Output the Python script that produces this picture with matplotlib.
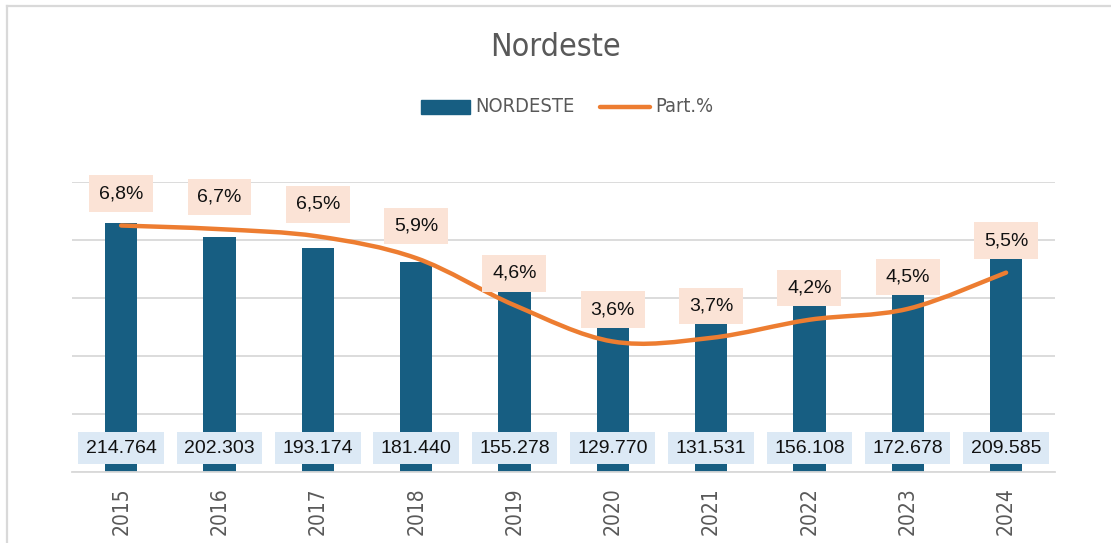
import matplotlib.pyplot as plt
from matplotlib.path import Path
from matplotlib.patches import PathPatch, Rectangle
from matplotlib.lines import Line2D
from matplotlib import font_manager

years = ["2015", "2016", "2017", "2018", "2019", "2020", "2021", "2022", "2023", "2024"]
nordeste = [214764, 202303, 193174, 181440, 155278, 129770, 131531, 156108, 172678, 209585]
part = [6.8, 6.7, 6.5, 5.9, 4.6, 3.6, 3.7, 4.2, 4.5, 5.5]

BAR = "#175e82"
LINE = "#ed7d31"
GRAY = "#595959"

names = {f.name for f in font_manager.fontManager.ttflist}
narrow = "Liberation Sans Narrow" if "Liberation Sans Narrow" in names else "DejaVu Sans"
narrow_kw = {"family": narrow}
if narrow == "DejaVu Sans":
    narrow_kw["stretch"] = "condensed"

plt.rcParams["font.family"] = ["Liberation Sans", "DejaVu Sans"]


def fmt_int(v):
    return f"{v:,}".replace(",", ".")


def smooth_path(xs, ys):
    # excel-style smoothed line as cubic bezier segments
    pts = list(zip(xs, ys))
    n = len(pts)
    verts = [pts[0]]
    codes = [Path.MOVETO]
    for i in range(n - 1):
        p0 = pts[i - 1] if i > 0 else pts[i]
        p1 = pts[i]
        p2 = pts[i + 1]
        p3 = pts[i + 2] if i + 2 < n else pts[i + 1]
        c1 = (p1[0] + (p2[0] - p0[0]) / 6, p1[1] + (p2[1] - p0[1]) / 6)
        c2 = (p2[0] - (p3[0] - p1[0]) / 6, p2[1] - (p3[1] - p1[1]) / 6)
        verts += [c1, c2, p2]
        codes += [Path.CURVE4] * 3
    return Path(verts, codes)


fig = plt.figure(figsize=(11.11, 5.43), dpi=100)
ax = fig.add_axes([0.0648, 0.1308, 0.885, 0.534])
ax2 = ax.twinx()

x = list(range(len(years)))
ax.bar(x, nordeste, width=0.33, color=BAR, zorder=2)
ax.set_ylim(0, 250000)
ax.set_yticks(range(0, 250001, 50000))
ax.set_xlim(-0.5, len(years) - 0.5)
ax.grid(axis="y", color="#d9d9d9", linewidth=1.3, zorder=0)
ax.set_axisbelow(True)
ax.tick_params(axis="y", left=False, labelleft=False)
ax.set_xticks(x)
ax.set_xticklabels(years, rotation=90, color=GRAY, fontsize=15, **narrow_kw)
ax.tick_params(axis="x", length=0, pad=11)
for s in ["top", "right", "left"]:
    ax.spines[s].set_visible(False)
ax.spines["bottom"].set_color("#d9d9d9")
ax.spines["bottom"].set_linewidth(1.3)

ax2.set_ylim(0, 8)
ax2.axis("off")
ax2.add_patch(PathPatch(smooth_path(x, part), fill=False, edgecolor=LINE,
                        linewidth=3.2, capstyle="round", joinstyle="round", zorder=3))

for i, v in enumerate(nordeste):
    ax2.annotate(fmt_int(v), xy=(i, 0), xytext=(0, 17), textcoords="offset points",
                 ha="center", va="center", fontsize=14, color="#111111", zorder=5,
                 bbox=dict(boxstyle="square,pad=0.38", fc="#dce9f5", ec="none"))

for i, v in enumerate(part):
    ax2.annotate(f"{v:.1f}%".replace(".", ","), xy=(i, v), xytext=(0, 23),
                 textcoords="offset points", ha="center", va="center", fontsize=14,
                 color="#111111", zorder=5,
                 bbox=dict(boxstyle="square,pad=0.5", fc="#fbe3d6", ec="none"))

fig.text(0.5, 0.913, "Nordeste", ha="center", va="center", fontsize=23,
         color=GRAY, **narrow_kw)

# legend
fig.add_artist(Rectangle((421 / 1111, 1 - 114 / 543), 49 / 1111, 14 / 543,
                         transform=fig.transFigure, color=BAR))
fig.text(475 / 1111, 1 - 107 / 543, "NORDESTE", ha="left", va="center",
         fontsize=14.4, color=GRAY, **narrow_kw)
fig.add_artist(Line2D([600 / 1111, 650 / 1111], [1 - 107 / 543, 1 - 107 / 543],
                      transform=fig.transFigure, color=LINE, linewidth=3.2,
                      solid_capstyle="round"))
fig.text(655 / 1111, 1 - 107 / 543, "Part.%", ha="left", va="center",
         fontsize=14.4, color=GRAY, **narrow_kw)

# outer chart frame
fig.add_artist(Line2D([7 / 1111, 1], [1 - 6 / 543, 1 - 6 / 543],
                      transform=fig.transFigure, color="#d9d9d9", linewidth=1.6))
fig.add_artist(Line2D([7 / 1111, 7 / 1111], [0, 1 - 6 / 543],
                      transform=fig.transFigure, color="#d9d9d9", linewidth=1.6))

fig.savefig("out.png", dpi=100)
